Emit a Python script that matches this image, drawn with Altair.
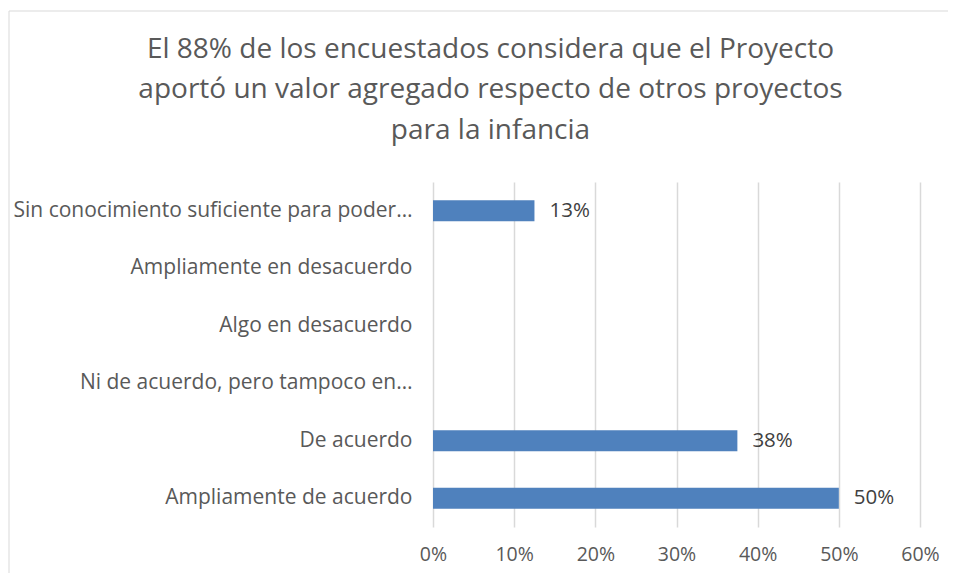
import altair as alt
import pandas as pd

categories = [
    "Sin conocimiento suficiente para poder…",
    "Ampliamente en desacuerdo",
    "Algo en desacuerdo",
    "Ni de acuerdo, pero tampoco en…",
    "De acuerdo",
    "Ampliamente de acuerdo",
]
values = [0.125, 0.0, 0.0, 0.0, 0.375, 0.50]
x_ticks = [0, 0.1, 0.2, 0.3, 0.4, 0.5, 0.6]
title_lines = [
    "El 88% de los encuestados considera que el Proyecto",
    "aportó un valor agregado respecto de otros proyectos",
    "para la infancia",
]

df = pd.DataFrame({"cat": categories, "value": values})

FONT = "Open Sans"
GRAY = "#595959"

x_enc = alt.X(
    "value:Q",
    scale=alt.Scale(domain=[0, 0.6], nice=False),
    axis=alt.Axis(
        values=x_ticks,
        format=".0%",
        title=None,
        domain=False,
        ticks=False,
        grid=True,
        gridColor="#d9d9d9",
        gridWidth=1.5,
        labelFont=FONT,
        labelFontSize=19.5,
        labelColor=GRAY,
        labelPadding=18,
        labelFlush=False,
    ),
)
y_enc = alt.Y(
    "cat:N",
    sort=categories,
    scale=alt.Scale(paddingInner=0.635, paddingOuter=0.3175),
    axis=alt.Axis(
        title=None,
        domain=False,
        ticks=False,
        labelFont=FONT,
        labelFontSize=21,
        labelColor=GRAY,
        labelPadding=21,
        labelLimit=500,
    ),
)

border = alt.Chart(df).mark_rect(
    fill=None, stroke="#d9d9d9", strokeWidth=1, clip=False
).encode(
    x=alt.value(-424), x2=alt.value(560), y=alt.value(-171), y2=alt.value(500)
).transform_filter("datum.cat == 'Ampliamente de acuerdo'")

bars = alt.Chart(df).mark_bar(color="#4F81BD").encode(x=x_enc, y=y_enc)

labels = alt.Chart(df).transform_filter("datum.value > 0").mark_text(
    align="left", baseline="middle", dx=15, font=FONT, fontSize=20.5, color="#404040"
).encode(
    x=alt.X("value:Q"),
    y=alt.Y("cat:N", sort=categories),
    text=alt.Text("value:Q", format=".0%"),
)

chart = alt.layer(border, bars, labels).properties(
    width=487,
    height=345,
    title=alt.TitleParams(
        text=title_lines,
        font=FONT,
        fontSize=28,
        fontWeight="normal",
        color=GRAY,
        lineHeight=40.5,
        anchor="middle",
        frame="group",
        dx=-186,
        offset=-134,
    ),
    autosize=alt.AutoSizeParams(type="none"),
    padding={"left": 425, "top": 174, "right": 28, "bottom": 46},
).configure(background="white").configure_view(stroke=None, strokeWidth=0)

chart.save("out.html", embed_options={"renderer": "svg", "actions": False})
